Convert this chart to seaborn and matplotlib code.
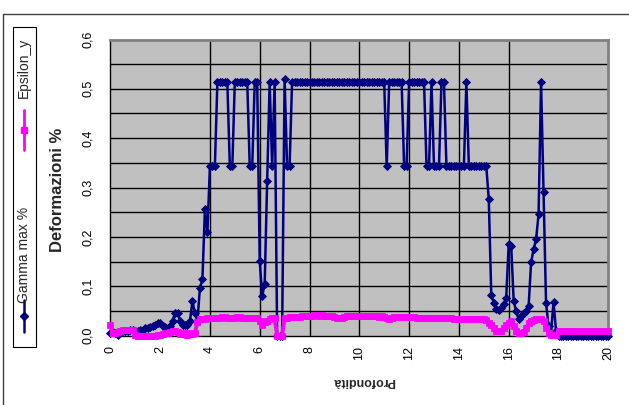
import numpy as np
import pandas as pd
import matplotlib
matplotlib.use("Agg")
import matplotlib.pyplot as plt
import seaborn as sns
from matplotlib.lines import Line2D
from matplotlib.patches import Rectangle

# ---------------- data (depth step 0.1 m, 0 .. 20 m) ----------------
DEPTH_STEP = 0.1

gamma_max = [
    0.005, 0.008, 0.006, 0.002, 0.008, 0.010, 0.010, 0.010, 0.012, 0.012,   # 0.0-0.9
    0.010, 0.010, 0.012, 0.012, 0.015, 0.015, 0.018, 0.020, 0.022, 0.025,   # 1.0-1.9
    0.025, 0.020, 0.018, 0.015, 0.020, 0.030, 0.045, 0.045, 0.030, 0.022,   # 2.0-2.9
    0.022, 0.022, 0.030, 0.070, 0.045, 0.030, 0.097, 0.114, 0.256, 0.209,   # 3.0-3.9
    0.343, 0.343, 0.343, 0.513, 0.513, 0.513, 0.513, 0.513, 0.343, 0.343,   # 4.0-4.9
    0.513, 0.513, 0.513, 0.513, 0.513, 0.513, 0.343, 0.343, 0.513, 0.513,   # 5.0-5.9
    0.151, 0.080, 0.104, 0.314, 0.513, 0.343, 0.513, 0.000, 0.000, 0.000,   # 6.0-6.9
    0.520, 0.343, 0.343, 0.513, 0.513, 0.513, 0.513, 0.513, 0.513, 0.513,   # 7.0-7.9
    0.513, 0.513, 0.513, 0.513, 0.513, 0.513, 0.513, 0.513, 0.513, 0.513,   # 8.0-8.9
    0.513, 0.513, 0.513, 0.513, 0.513, 0.513, 0.513, 0.513, 0.513, 0.513,   # 9.0-9.9
    0.513, 0.513, 0.513, 0.513, 0.513, 0.513, 0.513, 0.513, 0.513, 0.513,   # 10.0-10.9
    0.513, 0.343, 0.513, 0.513, 0.513, 0.513, 0.513, 0.513, 0.343, 0.343,   # 11.0-11.9
    0.513, 0.513, 0.513, 0.513, 0.513, 0.513, 0.513, 0.343, 0.343, 0.513,   # 12.0-12.9
    0.343, 0.343, 0.343, 0.513, 0.513, 0.343, 0.343, 0.343, 0.343, 0.343,   # 13.0-13.9
    0.343, 0.343, 0.343, 0.513, 0.343, 0.343, 0.343, 0.343, 0.343, 0.343,   # 14.0-14.9
    0.343, 0.343, 0.276, 0.083, 0.066, 0.053, 0.051, 0.055, 0.063, 0.077,   # 15.0-15.9
    0.185, 0.182, 0.070, 0.049, 0.033, 0.040, 0.046, 0.049, 0.060, 0.148,   # 16.0-16.9
    0.175, 0.195, 0.246, 0.513, 0.290, 0.066, 0.019, 0.005, 0.068, 0.010,   # 17.0-17.9
    0.000, 0.000, 0.000, 0.000, 0.000, 0.000, 0.000, 0.000, 0.000, 0.000,   # 18.0-18.9
    0.000, 0.000, 0.000, 0.000, 0.000, 0.000, 0.000, 0.000, 0.000, 0.000,   # 19.0-19.9
    0.000,                                                                   # 20.0
]

epsilon_y = [
    0.022, 0.005, 0.005, 0.008, 0.010, 0.012, 0.012, 0.012, 0.012, 0.012,   # 0.0-0.9
    0.002, 0.000, 0.000, 0.000, 0.000, 0.000, 0.000, 0.000, 0.000, 0.002,   # 1.0-1.9
    0.002, 0.003, 0.005, 0.005, 0.008, 0.010, 0.010, 0.008, 0.003, 0.003,   # 2.0-2.9
    0.005, 0.002, 0.005, 0.003, 0.005, 0.028, 0.033, 0.034, 0.034, 0.035,   # 3.0-3.9
    0.035, 0.036, 0.036, 0.035, 0.036, 0.037, 0.037, 0.036, 0.035, 0.036,   # 4.0-4.9
    0.036, 0.037, 0.037, 0.036, 0.036, 0.035, 0.035, 0.036, 0.036, 0.036,   # 5.0-5.9
    0.030, 0.022, 0.028, 0.030, 0.033, 0.035, 0.035, 0.000, 0.000, 0.000,   # 6.0-6.9
    0.035, 0.036, 0.037, 0.037, 0.038, 0.038, 0.038, 0.039, 0.039, 0.039,   # 7.0-7.9
    0.040, 0.040, 0.041, 0.041, 0.040, 0.041, 0.040, 0.039, 0.040, 0.040,   # 8.0-8.9
    0.037, 0.035, 0.035, 0.036, 0.038, 0.039, 0.039, 0.039, 0.040, 0.040,   # 9.0-9.9
    0.040, 0.040, 0.039, 0.040, 0.040, 0.040, 0.039, 0.039, 0.038, 0.039,   # 10.0-10.9
    0.038, 0.035, 0.034, 0.036, 0.037, 0.037, 0.038, 0.037, 0.037, 0.037,   # 11.0-11.9
    0.037, 0.038, 0.037, 0.036, 0.036, 0.036, 0.036, 0.035, 0.035, 0.035,   # 12.0-12.9
    0.035, 0.035, 0.035, 0.036, 0.035, 0.035, 0.035, 0.035, 0.034, 0.034,   # 13.0-13.9
    0.034, 0.033, 0.033, 0.033, 0.034, 0.033, 0.033, 0.033, 0.033, 0.033,   # 14.0-14.9
    0.033, 0.031, 0.025, 0.022, 0.015, 0.009, 0.009, 0.009, 0.015, 0.022,   # 15.0-15.9
    0.025, 0.029, 0.020, 0.010, 0.005, 0.005, 0.008, 0.016, 0.025, 0.030,   # 16.0-16.9
    0.032, 0.033, 0.033, 0.033, 0.030, 0.015, 0.005, 0.002, 0.002, 0.002,   # 17.0-17.9
    0.009, 0.009, 0.009, 0.009, 0.009, 0.009, 0.009, 0.009, 0.009, 0.009,   # 18.0-18.9
    0.009, 0.009, 0.009, 0.009, 0.009, 0.009, 0.009, 0.009, 0.009, 0.009,   # 19.0-19.9
    0.009,                                                                   # 20.0
]

series_names = ["Gamma max %", "Epsilon_y"]
x_ticks = [0, 2, 4, 6, 8, 10, 12, 14, 16, 18, 20]
y_ticks = [0.0, 0.1, 0.2, 0.3, 0.4, 0.5, 0.6]
y_tick_labels = ["0,0", "0,1", "0,2", "0,3", "0,4", "0,5", "0,6"]
x_title = "Profondità"
y_title = "Deformazioni %"

depth = [round(i * DEPTH_STEP, 1) for i in range(len(gamma_max))]
df = pd.DataFrame({"depth": depth, "gamma": gamma_max, "eps": epsilon_y})

# ---------------- styling ----------------
sns.set_style("white")
plt.rcParams["font.family"] = ["Liberation Sans", "DejaVu Sans"]

W, H = 629, 405
NAVY = "#000080"
MAGENTA = "#FF00FF"

def fx(px):
    return px / W

def fy(py):
    return 1 - py / H

fig = plt.figure(figsize=(W / 100, H / 100), dpi=100)
fig.patch.set_facecolor("white")

# outer chart border (left and top edges visible)
fig.add_artist(Line2D([fx(3.5), fx(3.5)], [fy(14), fy(405)], color="#404040", lw=1.0))
fig.add_artist(Line2D([fx(3.5), fx(629)], [fy(14), fy(14)], color="#404040", lw=1.0))

ax = fig.add_axes([fx(110.3), fy(335.5), (608.3 - 110.3) / W, (335.5 - 39.5) / H])
ax.set_facecolor("#C0C0C0")

# gridlines
for v in np.arange(0.05, 0.6, 0.05):
    ax.axhline(v, color="black", lw=1.0, zorder=1)
for xv in x_ticks[2:-2]:
    ax.axvline(xv, color="black", lw=1.0, zorder=1)

sns.lineplot(data=df, x="depth", y="gamma", ax=ax, color=NAVY, lw=1.8,
             marker="D", markersize=3.8, markeredgecolor=NAVY, markeredgewidth=0.6,
             zorder=3, legend=False, clip_on=False)
sns.lineplot(data=df, x="depth", y="eps", ax=ax, color=MAGENTA, lw=2.8,
             marker="s", markersize=3.8, markeredgecolor=MAGENTA, markeredgewidth=0.6,
             zorder=4, legend=False, clip_on=False)

ax.set_xlim(0, 20)
ax.set_ylim(0, 0.6)
ax.set_xticks(x_ticks)
ax.set_xticklabels([str(t) for t in x_ticks])
ax.set_yticks(y_ticks)
ax.set_yticklabels(y_tick_labels)
ax.set_xlabel("")
ax.set_ylabel("")

for s in ["left", "bottom"]:
    ax.spines[s].set_color("black")
    ax.spines[s].set_linewidth(1.0)
for s in ["top", "right"]:
    ax.spines[s].set_color("#808080")
    ax.spines[s].set_linewidth(2.0)

ax.tick_params(axis="both", direction="out", length=5, width=1, color="black",
               labelsize=9, labelcolor="black")
ax.tick_params(axis="y", pad=7, labelrotation=90)
ax.tick_params(axis="x", pad=2.5, labelrotation=90)
for lab in ax.get_yticklabels():
    lab.set_va("center")
    lab.set_ha("right")
for lab in ax.get_xticklabels():
    lab.set_ha("center")
    lab.set_va("top")

# axis titles
fig.text(fx(58), fy(190), y_title, rotation=90, ha="center", va="center",
         fontsize=12, fontweight="bold")
fig.text(fx(364), fy(381), x_title, rotation=180, ha="center", va="center",
         fontsize=9, fontweight="bold")

# legend (rotated, drawn by hand)
fig.add_artist(Rectangle((fx(12.7), fy(347)), fx(35.5) - fx(12.7), fy(27) - fy(347),
                         transform=fig.transFigure, facecolor="white",
                         edgecolor="black", lw=0.8))
lx = fx(24)
fig.add_artist(Line2D([lx, lx], [fy(300), fy(332)], color=NAVY, lw=1.8))
fig.add_artist(Line2D([lx], [fy(316)], color=NAVY, marker="D", markersize=4.5,
                      markeredgecolor=NAVY))
fig.text(lx, fy(255), series_names[0], rotation=90, ha="center", va="center",
         fontsize=10)
fig.add_artist(Line2D([lx, lx], [fy(110), fy(150)], color=MAGENTA, lw=2.0))
fig.add_artist(Line2D([lx], [fy(130)], color=MAGENTA, marker="s", markersize=4.5,
                      markeredgecolor=MAGENTA))
fig.text(lx, fy(68), series_names[1], rotation=90, ha="center", va="center",
         fontsize=10)

fig.savefig("out.png", dpi=100, facecolor="white")
